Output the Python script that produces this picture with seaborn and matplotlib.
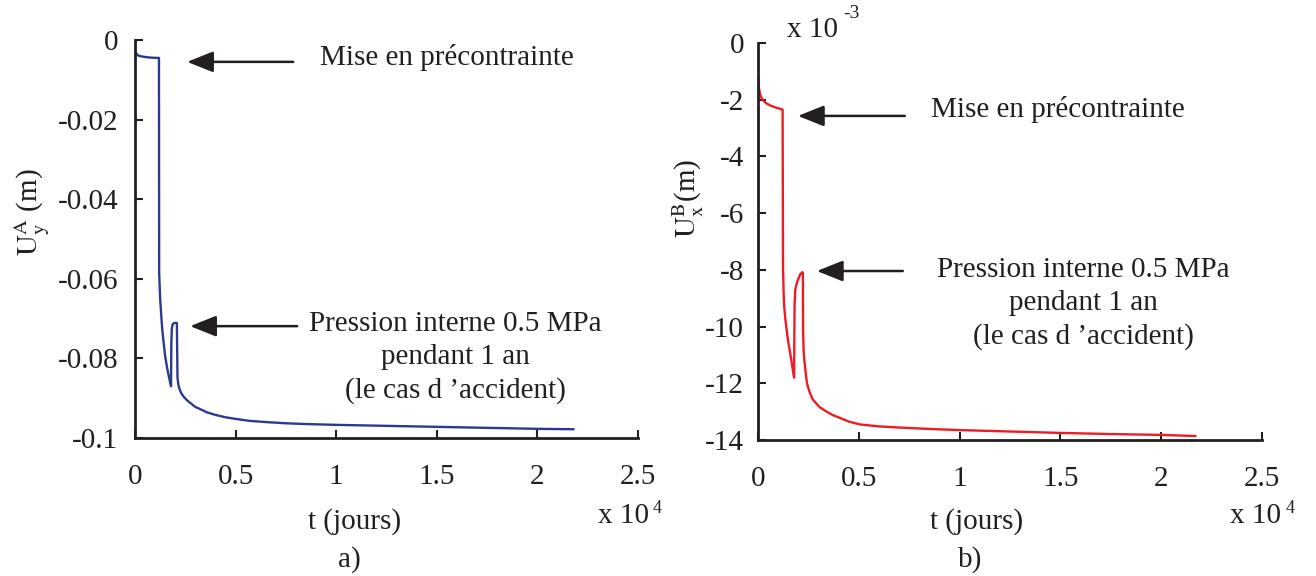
import matplotlib
matplotlib.use("Agg")
import matplotlib.pyplot as plt
import pandas as pd
import seaborn as sns

# Values
# a) vertical displacement of point A (m) vs time (days)
t_a = [0, 30, 80, 200, 400, 700, 1000, 1190, 1200, 1250, 1300, 1350, 1400,
       1500, 1600, 1700, 1790, 1805, 1830, 1870, 1950, 2080, 2110, 2150,
       2200, 2300, 2430, 2600, 2800, 3000, 3300, 3600, 4000, 4500, 5000,
       5700, 6500, 7500, 8500, 10000, 12000, 14000, 16000, 18000, 20000,
       21800]
u_a = [-0.0022, -0.0030, -0.0036, -0.0040, -0.0042, -0.0044, -0.0045,
       -0.0045, -0.0585, -0.0650, -0.0690, -0.0725, -0.0750, -0.0795,
       -0.0825, -0.0850, -0.0870, -0.0760, -0.0725, -0.0714, -0.0711,
       -0.0711, -0.0847, -0.0865, -0.0875, -0.0888, -0.0897, -0.0906,
       -0.0914, -0.0922, -0.0929, -0.0936, -0.0942, -0.0948, -0.0952,
       -0.0957, -0.0960, -0.0963, -0.0965, -0.0967, -0.0969, -0.0971,
       -0.0973, -0.0975, -0.0977, -0.0978]

# b) horizontal displacement of point B (x 1e-3 m) vs time (days)
t_b = [0, 20, 50, 100, 170, 250, 400, 600, 850, 1050, 1220, 1240, 1270,
       1300, 1350, 1400, 1500, 1600, 1700, 1790, 1805, 1815, 1850, 1950,
       2100, 2200, 2225, 2235, 2260, 2300, 2360, 2430, 2550, 2700, 2900,
       3070, 3400, 3700, 4060, 4500, 5050, 6000, 7000, 8500, 10000, 12500,
       15000, 17500, 20000, 21700]
u_b = [-1.1, -1.35, -1.6, -1.8, -1.93, -2.02, -2.12, -2.2, -2.27, -2.31,
       -2.35, -7.9, -8.8, -9.3, -9.7, -10.0, -10.55, -10.95, -11.4, -11.8,
       -10.0, -9.2, -8.7, -8.4, -8.15, -8.08, -8.1, -10.1, -10.8, -11.2,
       -11.6, -12.0, -12.3, -12.55, -12.72, -12.85, -13.0, -13.12, -13.22,
       -13.35, -13.45, -13.52, -13.56, -13.61, -13.65, -13.7, -13.75,
       -13.79, -13.82, -13.86]

x_ticks = [0, 5000, 10000, 15000, 20000, 25000]
x_ticklabels = ['0', '0.5', '1', '1.5', '2', '2.5']
ya_ticks = [0, -0.02, -0.04, -0.06, -0.08, -0.1]
ya_ticklabels = ['0', '-0.02', '-0.04', '-0.06', '-0.08', '-0.1']
yb_ticks = [0, -2, -4, -6, -8, -10, -12, -14]
yb_ticklabels = ['0', '-2', '-4', '-6', '-8', '-10', '-12', '-14']

label_prec = 'Mise en précontrainte'
label_press = 'Pression interne 0.5 MPa\npendant 1 an\n(le cas d \u2019accident)'

sns.set_style('ticks')
plt.rcParams['font.family'] = ['Liberation Serif', 'DejaVu Serif']
plt.rcParams['mathtext.fontset'] = 'stix'
plt.rcParams['axes.unicode_minus'] = False

ink = '#231f20'
fs = 21

fig = plt.figure(figsize=(13.16, 5.76), dpi=100)
ax1 = fig.add_axes([0.1026, 0.2396, 0.3822, 0.6910])
ax2 = fig.add_axes([0.5760, 0.2361, 0.3830, 0.6892])

df_a = pd.DataFrame({'t': t_a, 'u': u_a})
df_b = pd.DataFrame({'t': t_b, 'u': u_b})
sns.lineplot(data=df_a, x='t', y='u', ax=ax1, color='#2b3990', lw=1.7,
             estimator=None, sort=False)
sns.lineplot(data=df_b, x='t', y='u', ax=ax2, color='#ed1c24', lw=1.7,
             estimator=None, sort=False)

arrow = dict(arrowstyle='-|>,head_length=0.8,head_width=0.32', color=ink,
             lw=1.8, mutation_scale=20, shrinkA=0, shrinkB=0)

for ax, yt, ytl, ylim, ypad in [(ax1, ya_ticks, ya_ticklabels, (-0.1, 0), 12),
                                (ax2, yb_ticks, yb_ticklabels, (-14, 0), 10)]:
    sns.despine(ax=ax)
    ax.set_xlim(0, 25000)
    ax.set_ylim(*ylim)
    ax.set_xticks(x_ticks)
    ax.set_xticklabels(x_ticklabels)
    ax.set_yticks(yt)
    ax.set_yticklabels(ytl)
    ax.tick_params(direction='in', length=6, width=1.5, colors=ink,
                   labelsize=fs, labelcolor=ink)
    ax.tick_params(axis='x', pad=19)
    ax.tick_params(axis='y', pad=ypad)
    for s in ['left', 'bottom']:
        ax.spines[s].set_linewidth(2)
        ax.spines[s].set_color(ink)
    ax.set_xlabel('t (jours)', fontsize=fs, color=ink)

ax1.set_ylabel(r'$\mathrm{U_y^A}$ (m)', fontsize=fs, color=ink)
ax2.set_ylabel(r'$\mathrm{U_x^B}$(m)', fontsize=fs, color=ink)
ax1.yaxis.set_label_coords(-0.165, 0.568)
ax2.yaxis.set_label_coords(-0.103, 0.608)
ax1.xaxis.set_label_coords(0.437, -0.176)
ax2.xaxis.set_label_coords(0.433, -0.171)


def multiplier(ax, x, y, power, dx, dy, size):
    base = ax.text(x, y, 'x 10', transform=ax.transAxes, ha='left',
                   va='baseline', fontsize=fs, color=ink)
    ax.annotate(power, xy=(1, 1), xycoords=base, xytext=(dx, dy),
                textcoords='offset points', ha='left', va='top',
                fontsize=size, color=ink)


multiplier(ax1, 0.920, -0.2136, '4', 3, 2, 13)
multiplier(ax2, 0.9365, -0.209, '4', 3, 2, 13)
multiplier(ax2, 0.0575, 1.015, '-3', 4, 9, 14)

# annotations, panel a
ax1.annotate('', xy=(2590, -0.0055), xytext=(7860, -0.0055), arrowprops=arrow)
ax1.text(15520, -0.0045, label_prec, ha='center', va='center', fontsize=fs,
         color=ink)
ax1.annotate('', xy=(2740, -0.0719), xytext=(8060, -0.0719), arrowprops=arrow)
ax1.text(15920, -0.0797, label_press, ha='center', va='center', fontsize=fs,
         color=ink, multialignment='center', linespacing=1.35)

# annotations, panel b
ax2.annotate('', xy=(1980, -2.57), xytext=(7280, -2.57), arrowprops=arrow)
ax2.text(14850, -2.36, label_prec, ha='center', va='center', fontsize=fs,
         color=ink)
ax2.annotate('', xy=(2920, -8.04), xytext=(7180, -8.04), arrowprops=arrow)
ax2.text(16140, -9.2, label_press, ha='center', va='center', fontsize=fs,
         color=ink, multialignment='center', linespacing=1.35)

fig.text(349 / 1316, 0.028, 'a)', ha='center', va='center', fontsize=fs,
         color=ink)
fig.text(970 / 1316, 0.028, 'b)', ha='center', va='center', fontsize=fs,
         color=ink)

fig.savefig('out.png', dpi=100)
